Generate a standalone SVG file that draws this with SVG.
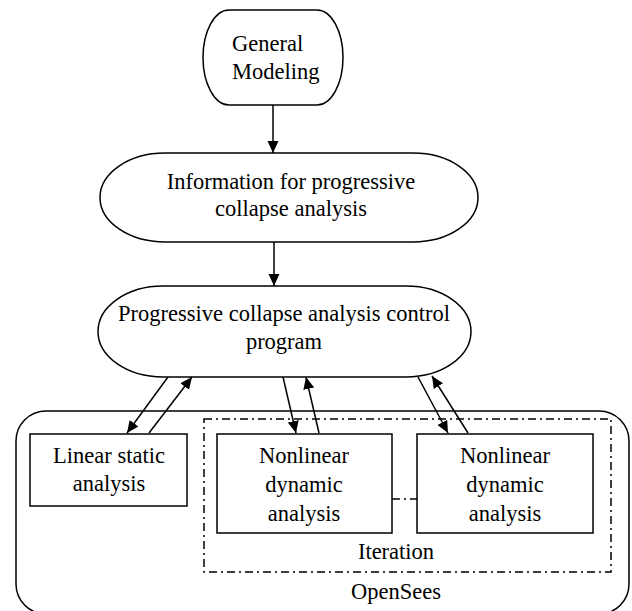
<svg xmlns="http://www.w3.org/2000/svg" width="632" height="611" viewBox="0 0 632 611">
<defs>
<marker id="ah" viewBox="0 0 12 12" refX="12" refY="6" markerWidth="12" markerHeight="12" markerUnits="userSpaceOnUse" orient="auto">
<path d="M0,0.5 L12,6 L0,11.5 Z" fill="#000"/>
</marker>
<style>
.s{fill:#fff;stroke:#000;stroke-width:1.5}
.t{font-family:"Liberation Serif","Times New Roman",serif;font-size:22.5px;fill:#000;text-anchor:middle}
.c{stroke:#000;stroke-width:1.5;fill:none}
.dd{stroke:#000;stroke-width:1.5;fill:none;stroke-dasharray:8 4 2 4}
</style>
</defs>
<rect width="632" height="611" fill="#fff"/>
<g id="opensees">
<rect class="s" x="16" y="411" width="613" height="203" rx="30" ry="30"/>
<text class="t" x="396" y="599">OpenSees</text>
</g>
<g id="iteration">
<rect class="dd" x="204" y="419" width="407" height="153"/>
<text class="t" x="396" y="559">Iteration</text>
</g>
<g id="general">
<rect class="s" x="203" y="10" width="140" height="95" rx="26" ry="47.5"/>
<text class="t" x="232" y="51" style="text-anchor:start">General</text>
<text class="t" x="232" y="79" style="text-anchor:start">Modeling</text>
</g>
<g id="info">
<rect class="s" x="100" y="153" width="378" height="89" rx="65" ry="44.5"/>
<text class="t" x="291" y="189">Information for progressive</text>
<text class="t" x="291" y="216">collapse analysis</text>
</g>
<g id="control">
<rect class="s" x="98" y="286" width="373" height="91" rx="65" ry="45.5"/>
<text class="t" x="284" y="321">Progressive collapse analysis control</text>
<text class="t" x="284" y="349">program</text>
</g>
<g id="linear">
<rect class="s" x="30" y="434" width="157" height="72"/>
<text class="t" x="109" y="463">Linear static</text>
<text class="t" x="109" y="491">analysis</text>
</g>
<g id="nl1">
<rect class="s" x="217" y="434" width="175" height="99"/>
<text class="t" x="304" y="463">Nonlinear</text>
<text class="t" x="304" y="492">dynamic</text>
<text class="t" x="304" y="521">analysis</text>
</g>
<g id="nl2">
<rect class="s" x="417" y="434" width="176" height="99"/>
<text class="t" x="505" y="463">Nonlinear</text>
<text class="t" x="505" y="492">dynamic</text>
<text class="t" x="505" y="521">analysis</text>
</g>
<g id="connectors">
<line class="c" x1="273" y1="105" x2="273" y2="153" marker-end="url(#ah)"/>
<line class="c" x1="274" y1="242" x2="274" y2="286" marker-end="url(#ah)"/>
<line class="c" x1="168" y1="377" x2="127" y2="433" marker-end="url(#ah)"/>
<line class="c" x1="149" y1="433" x2="192" y2="377" marker-end="url(#ah)"/>
<line class="c" x1="283" y1="377" x2="296" y2="433" marker-end="url(#ah)"/>
<line class="c" x1="319" y1="433" x2="306" y2="377" marker-end="url(#ah)"/>
<line class="c" x1="418" y1="377" x2="448" y2="433" marker-end="url(#ah)"/>
<line class="c" x1="468" y1="433" x2="432" y2="376" marker-end="url(#ah)"/>
<line class="dd" x1="392" y1="499" x2="417" y2="499"/>
</g>
</svg>
